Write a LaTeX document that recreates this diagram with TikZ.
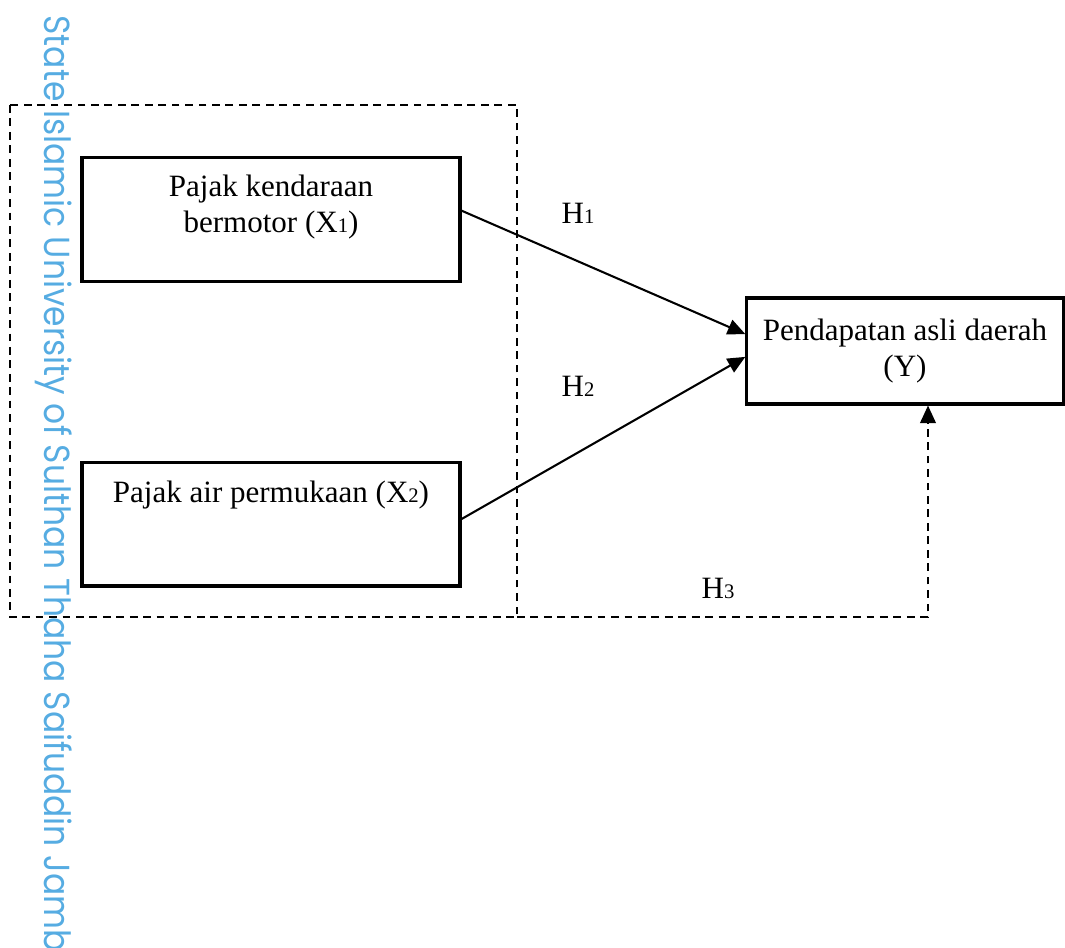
\documentclass[tikz,border=0pt]{standalone}
\usepackage{xcolor}
\usepackage{fontspec}
\setmainfont{Liberation Serif}
\newfontfamily\wmfont{Poppins}
\usepackage{tikz}
\usetikzlibrary{arrows.meta, positioning, calc}
\definecolor{wmblue}{RGB}{86,172,226}
\newcommand{\idx}[1]{{\fontsize{8}{8}\selectfont #1}}
\tikzstyle{block} = [rectangle, draw, line width=1.2pt, minimum width=5.14cm, minimum height=1.68cm, align=center]
\tikzstyle{arrow} = [line width=0.8pt, -{Triangle[length=6.8pt, width=6pt]}]
\tikzstyle{dashline} = [line width=0.9pt, dash pattern=on 3pt off 2.2pt]
\tikzstyle{hlabel} = [inner sep=0pt]

\begin{document}
\begin{tikzpicture}[x=0.0136cm, y=-0.0136cm, font=\fontsize{12}{13.8}\selectfont]
    \useasboundingbox (0,0) rectangle (1065,948);
    \clip (0,0) rectangle (1065,948);

    % watermark
    \node (wm) [rotate=-90, anchor=base west, inner sep=0pt, text=wmblue, font=\wmfont\fontsize{14}{14}\selectfont] at (44,15) {\scalebox{0.91}[1]{State Islamic University of Sulthan Thaha Saifuddin Jambi}};

    % variables
    \node (x1) [block] at (271,219.5) {Pajak kendaraan\\bermotor (X\idx{1})\\[-6pt]\strut};
    \node (x2) [block, below=2.42cm of x1] {Pajak air permukaan (X\idx{2})\\[7pt]\strut};
    \node (y) [block, minimum width=4.3cm, minimum height=1.44cm] at (905,351) {Pendapatan asli daerah\\(Y)};

    % dashed frame round X1 and X2
    \coordinate (boxnw) at (10,105);
    \coordinate (boxse) at (517,617);
    \coordinate (h3turn) at (928,617);
    \draw[dashline] (boxnw) rectangle (boxse);

    \draw[arrow] ([yshift=0.12cm]x1.east) -- ([yshift=0.23cm]y.west);
    \draw[arrow] ([yshift=0.07cm]x2.east) -- ([yshift=-0.08cm]y.west);
    \draw[dashline, -{Triangle[length=6.8pt, width=6pt]}] (boxse) -- (h3turn) -- (h3turn |- y.south);

    \node (h1) [hlabel] at (578,213) {H\idx{1}};
    \node (h2) [hlabel] at (578,386) {H\idx{2}};
    \node (h3) [hlabel] at (718,588) {H\idx{3}};
\end{tikzpicture}
\end{document}
